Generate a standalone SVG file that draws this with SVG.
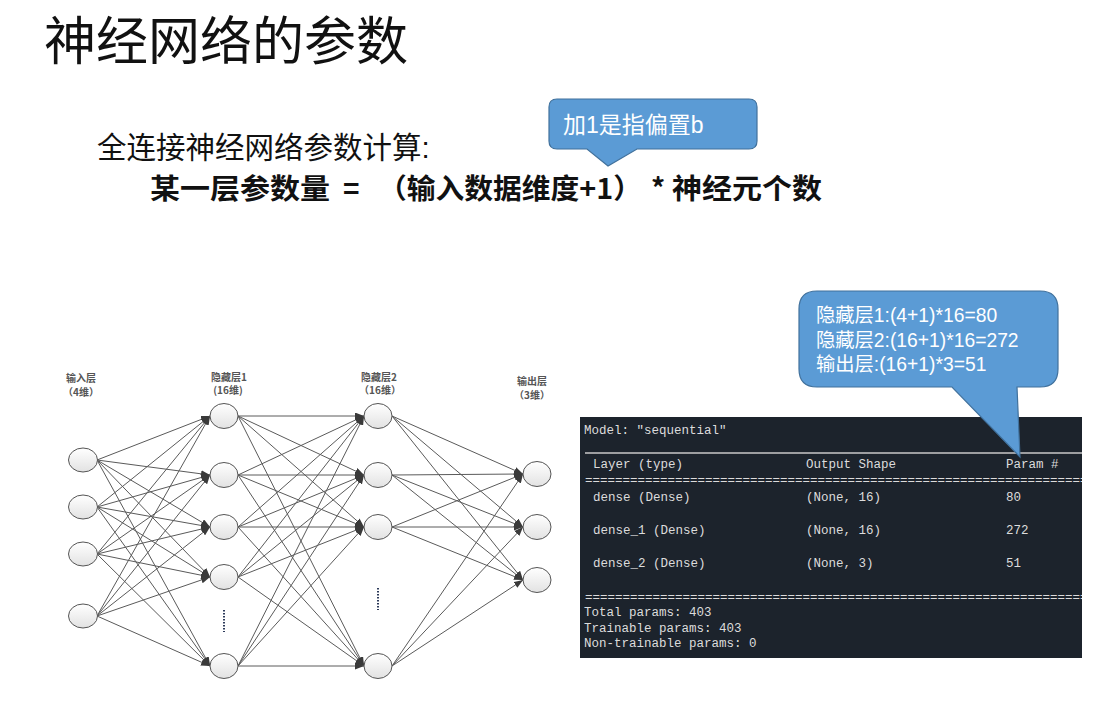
<svg xmlns="http://www.w3.org/2000/svg" width="1117" height="715" viewBox="0 0 1117 715">
<style>
.cjk{font-family:"Liberation Sans","Noto Sans CJK SC",sans-serif}
.lbl{font-family:"Noto Sans CJK SC",sans-serif;font-size:10px;fill:#555;font-weight:bold;text-anchor:middle}
.edge{stroke:#5a5a5a;stroke-width:1;fill:none;marker-end:url(#arr)}
.node{fill:url(#ng);stroke:#555;stroke-width:1}
.mono{font-family:"Liberation Mono","DejaVu Sans Mono",monospace;font-size:12.5px;fill:#dcdcdc}
.callout{fill:#5b9bd5;stroke:#41719c;stroke-width:1.2}
.ct{font-family:"Liberation Sans","Noto Sans CJK SC",sans-serif;fill:#fff}
</style>
<defs>
<marker id="arr" markerWidth="9" markerHeight="7" refX="9" refY="3.5" orient="auto" markerUnits="userSpaceOnUse">
<path d="M0,0 L9,3.5 L0,7 z" fill="#3a3a3a"/>
</marker>
<linearGradient id="ng" x1="0" y1="0" x2="0" y2="1">
<stop offset="0" stop-color="#ffffff"/>
<stop offset="1" stop-color="#e2e2e2"/>
</linearGradient>
<clipPath id="term"><rect x="580" y="417" width="502" height="241"/></clipPath>
</defs>
<rect width="1117" height="715" fill="#fff"/>

<text x="44" y="60" class="cjk" font-size="52" fill="#111">神经网络的参数</text>
<text x="97" y="158" class="cjk" font-size="29.5" fill="#111">全连接神经网络参数计算:</text>
<g font-family="'Noto Sans CJK SC',sans-serif" font-weight="bold" font-size="28" fill="#111">
<text x="150" y="199" textLength="180" lengthAdjust="spacingAndGlyphs">某一层参数量</text>
<text x="343" y="199">=</text>
<text x="378" y="199" textLength="264" lengthAdjust="spacingAndGlyphs">（输入数据维度+1）</text>
<text x="651" y="199">*</text>
<text x="672" y="199" textLength="150" lengthAdjust="spacingAndGlyphs">神经元个数</text>
</g>

<g id="callout-bias">
<path class="callout" d="M557,99 H749 Q757,99 757,107 V141 Q757,149 749,149 H637 L608,166 L587,149 H557 Q549,149 549,141 V107 Q549,99 557,99 Z"/>
<text x="563" y="133" class="ct" font-size="23">加1是指偏置b</text>
</g>

<g id="labels">
<text x="81" y="382" class="lbl">输入层</text>
<text x="81" y="396" class="lbl">（4维）</text>
<text x="229" y="381" class="lbl">隐藏层1</text>
<text x="228" y="394" class="lbl">(16维)</text>
<text x="379" y="381" class="lbl">隐藏层2</text>
<text x="380" y="394" class="lbl">（16维）</text>
<text x="532" y="385" class="lbl">输出层</text>
<text x="532" y="399" class="lbl">（3维）</text>
</g>

<g id="connectors">
<line class="edge" x1="97" y1="460" x2="210" y2="416"/>
<line class="edge" x1="97" y1="460" x2="210" y2="475"/>
<line class="edge" x1="97" y1="460" x2="210" y2="527"/>
<line class="edge" x1="97" y1="460" x2="210" y2="577"/>
<line class="edge" x1="97" y1="460" x2="210" y2="666"/>
<line class="edge" x1="97" y1="507" x2="210" y2="416"/>
<line class="edge" x1="97" y1="507" x2="210" y2="475"/>
<line class="edge" x1="97" y1="507" x2="210" y2="527"/>
<line class="edge" x1="97" y1="507" x2="210" y2="577"/>
<line class="edge" x1="97" y1="507" x2="210" y2="666"/>
<line class="edge" x1="97" y1="554" x2="210" y2="416"/>
<line class="edge" x1="97" y1="554" x2="210" y2="475"/>
<line class="edge" x1="97" y1="554" x2="210" y2="527"/>
<line class="edge" x1="97" y1="554" x2="210" y2="577"/>
<line class="edge" x1="97" y1="554" x2="210" y2="666"/>
<line class="edge" x1="97" y1="616" x2="210" y2="416"/>
<line class="edge" x1="97" y1="616" x2="210" y2="475"/>
<line class="edge" x1="97" y1="616" x2="210" y2="527"/>
<line class="edge" x1="97" y1="616" x2="210" y2="577"/>
<line class="edge" x1="97" y1="616" x2="210" y2="666"/>

<line class="edge" x1="238" y1="416" x2="364" y2="416"/>
<line class="edge" x1="238" y1="416" x2="364" y2="475"/>
<line class="edge" x1="238" y1="416" x2="364" y2="527"/>
<line class="edge" x1="238" y1="416" x2="364" y2="666"/>
<line class="edge" x1="238" y1="475" x2="364" y2="416"/>
<line class="edge" x1="238" y1="475" x2="364" y2="475"/>
<line class="edge" x1="238" y1="475" x2="364" y2="527"/>
<line class="edge" x1="238" y1="475" x2="364" y2="666"/>
<line class="edge" x1="238" y1="527" x2="364" y2="416"/>
<line class="edge" x1="238" y1="527" x2="364" y2="475"/>
<line class="edge" x1="238" y1="527" x2="364" y2="527"/>
<line class="edge" x1="238" y1="527" x2="364" y2="666"/>
<line class="edge" x1="238" y1="577" x2="364" y2="416"/>
<line class="edge" x1="238" y1="577" x2="364" y2="475"/>
<line class="edge" x1="238" y1="577" x2="364" y2="527"/>
<line class="edge" x1="238" y1="577" x2="364" y2="666"/>
<line class="edge" x1="238" y1="666" x2="364" y2="416"/>
<line class="edge" x1="238" y1="666" x2="364" y2="475"/>
<line class="edge" x1="238" y1="666" x2="364" y2="527"/>
<line class="edge" x1="238" y1="666" x2="364" y2="666"/>

<line class="edge" x1="392" y1="416" x2="523" y2="474"/>
<line class="edge" x1="392" y1="416" x2="523" y2="527"/>
<line class="edge" x1="392" y1="416" x2="523" y2="580"/>
<line class="edge" x1="392" y1="475" x2="523" y2="474"/>
<line class="edge" x1="392" y1="475" x2="523" y2="527"/>
<line class="edge" x1="392" y1="475" x2="523" y2="580"/>
<line class="edge" x1="392" y1="527" x2="523" y2="474"/>
<line class="edge" x1="392" y1="527" x2="523" y2="527"/>
<line class="edge" x1="392" y1="527" x2="523" y2="580"/>
<line class="edge" x1="392" y1="666" x2="523" y2="474"/>
<line class="edge" x1="392" y1="666" x2="523" y2="527"/>
<line class="edge" x1="392" y1="666" x2="523" y2="580"/>
</g>

<g id="input-layer">
<ellipse class="node" cx="83" cy="460" rx="14.5" ry="12"/>
<ellipse class="node" cx="83" cy="507" rx="14.5" ry="12"/>
<ellipse class="node" cx="83" cy="554" rx="14.5" ry="12"/>
<ellipse class="node" cx="83" cy="616" rx="14.5" ry="12"/>
</g>
<g id="hidden-layer-1">
<ellipse class="node" cx="224" cy="416" rx="14" ry="12.5"/>
<ellipse class="node" cx="224" cy="475" rx="14" ry="12.5"/>
<ellipse class="node" cx="224" cy="527" rx="14" ry="12.5"/>
<ellipse class="node" cx="224" cy="577" rx="14" ry="12.5"/>
<ellipse class="node" cx="224" cy="666" rx="14" ry="12.5"/>
<line x1="224" y1="610" x2="224" y2="632" stroke="#2d3a5a" stroke-width="2" stroke-dasharray="1.5,1.5"/>
</g>
<g id="hidden-layer-2">
<ellipse class="node" cx="378" cy="416" rx="14" ry="12.5"/>
<ellipse class="node" cx="378" cy="475" rx="14" ry="12.5"/>
<ellipse class="node" cx="378" cy="527" rx="14" ry="12.5"/>
<ellipse class="node" cx="378" cy="666" rx="14" ry="12.5"/>
<line x1="378" y1="588" x2="378" y2="610" stroke="#2d3a5a" stroke-width="2" stroke-dasharray="1.5,1.5"/>
</g>
<g id="output-layer">
<ellipse class="node" cx="537" cy="474" rx="14" ry="12.5"/>
<ellipse class="node" cx="537" cy="527" rx="14" ry="12.5"/>
<ellipse class="node" cx="537" cy="580" rx="14" ry="12.5"/>
</g>

<g id="model-summary">
<rect x="580" y="417" width="502" height="241" fill="#1c232c"/>
<g clip-path="url(#term)">
<text x="584" y="434" class="mono">Model: "sequential"</text>
<line x1="585" y1="453" x2="1082" y2="453" stroke="#c8c8c8" stroke-width="1.5"/>
<text x="593" y="468" class="mono">Layer (type)</text>
<text x="806" y="468" class="mono">Output Shape</text>
<text x="1006" y="468" class="mono">Param #</text>
<text x="585" y="484" class="mono">======================================================================</text>
<text x="593" y="501" class="mono">dense (Dense)</text>
<text x="806" y="501" class="mono">(None, 16)</text>
<text x="1006" y="501" class="mono">80</text>
<text x="593" y="534" class="mono">dense_1 (Dense)</text>
<text x="806" y="534" class="mono">(None, 16)</text>
<text x="1006" y="534" class="mono">272</text>
<text x="593" y="567" class="mono">dense_2 (Dense)</text>
<text x="806" y="567" class="mono">(None, 3)</text>
<text x="1006" y="567" class="mono">51</text>
<text x="585" y="601" class="mono">======================================================================</text>
<text x="584" y="616" class="mono">Total params: 403</text>
<text x="584" y="632" class="mono">Trainable params: 403</text>
<text x="584" y="647" class="mono">Non-trainable params: 0</text>
</g>
</g>

<g id="callout-calc">
<path class="callout" d="M817,291 H1040 Q1058,291 1058,309 V369 Q1058,387 1040,387 H1017 L1020,457 L952,387 H817 Q799,387 799,369 V309 Q799,291 817,291 Z"/>
<text x="816" y="322" class="ct" font-size="19.3">隐藏层1:(4+1)*16=80</text>
<text x="816" y="347" class="ct" font-size="19.3">隐藏层2:(16+1)*16=272</text>
<text x="816" y="371" class="ct" font-size="19.3">输出层:(16+1)*3=51</text>
</g>
</svg>
